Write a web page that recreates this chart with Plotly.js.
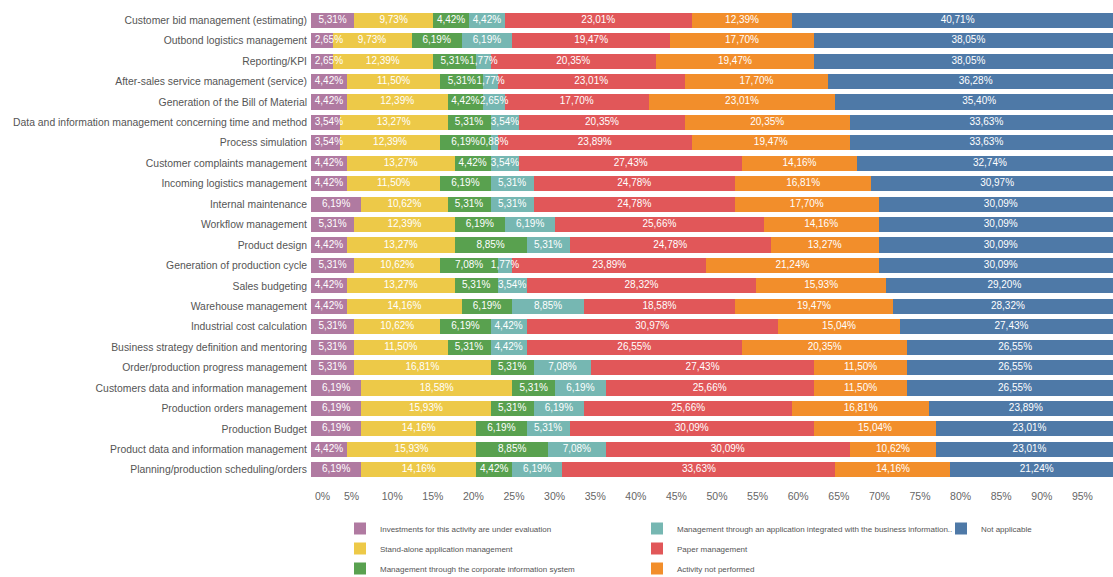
<!DOCTYPE html>
<html>
<head>
<meta charset="utf-8">
<script src="https://cdn.plot.ly/plotly-3.0.1.min.js"></script>
<style>
  html, body { margin: 0; padding: 0; background: #ffffff; }
  #chart { width: 1113px; height: 577px; }
</style>
</head>
<body>
<div id="chart"></div>
<script>
const categories = [
  "Customer bid management (estimating)",
  "Outbond logistics management",
  "Reporting/KPI",
  "After-sales service management (service)",
  "Generation of the Bill of Material",
  "Data and information management concerning time and method",
  "Process simulation",
  "Customer complaints management",
  "Incoming logistics management",
  "Internal maintenance",
  "Workflow management",
  "Product design",
  "Generation of production cycle",
  "Sales budgeting",
  "Warehouse management",
  "Industrial cost calculation",
  "Business strategy definition and mentoring",
  "Order/production progress management",
  "Customers data and information management",
  "Production orders management",
  "Production Budget",
  "Product data and information management",
  "Planning/production scheduling/orders"
];

const investmentsUnderEvaluation = [5.31, 2.65, 2.65, 4.42, 4.42, 3.54, 3.54, 4.42, 4.42, 6.19, 5.31, 4.42, 5.31, 4.42, 4.42, 5.31, 5.31, 5.31, 6.19, 6.19, 6.19, 4.42, 6.19];
const standAloneApplication      = [9.73, 9.73, 12.39, 11.50, 12.39, 13.27, 12.39, 13.27, 11.50, 10.62, 12.39, 13.27, 10.62, 13.27, 14.16, 10.62, 11.50, 16.81, 18.58, 15.93, 14.16, 15.93, 14.16];
const corporateInfoSystem        = [4.42, 6.19, 5.31, 5.31, 4.42, 5.31, 6.19, 4.42, 6.19, 5.31, 6.19, 8.85, 7.08, 5.31, 6.19, 6.19, 5.31, 5.31, 5.31, 5.31, 6.19, 8.85, 4.42];
const integratedApplication      = [4.42, 6.19, 1.77, 1.77, 2.65, 3.54, 0.88, 3.54, 5.31, 5.31, 6.19, 5.31, 1.77, 3.54, 8.85, 4.42, 4.42, 7.08, 6.19, 6.19, 5.31, 7.08, 6.19];
const paperManagement            = [23.01, 19.47, 20.35, 23.01, 17.70, 20.35, 23.89, 27.43, 24.78, 24.78, 25.66, 24.78, 23.89, 28.32, 18.58, 30.97, 26.55, 27.43, 25.66, 25.66, 30.09, 30.09, 33.63];
const activityNotPerformed       = [12.39, 17.70, 19.47, 17.70, 23.01, 20.35, 19.47, 14.16, 16.81, 17.70, 14.16, 13.27, 21.24, 15.93, 19.47, 15.04, 20.35, 11.50, 11.50, 16.81, 15.04, 10.62, 14.16];
const notApplicable              = [40.71, 38.05, 38.05, 36.28, 35.40, 33.63, 33.63, 32.74, 30.97, 30.09, 30.09, 30.09, 30.09, 29.20, 28.32, 27.43, 26.55, 26.55, 26.55, 23.89, 23.01, 23.01, 21.24];

const seriesNames = [
  "Investments for this activity are under evaluation",
  "Stand-alone application management",
  "Management through the corporate information system",
  "Management through an application integrated with the business information..",
  "Paper management",
  "Activity not performed",
  "Not applicable"
];
const seriesValues = [investmentsUnderEvaluation, standAloneApplication, corporateInfoSystem, integratedApplication, paperManagement, activityNotPerformed, notApplicable];
const seriesColors = ["#b07aa1", "#edc948", "#59a14f", "#76b7b2", "#e15759", "#f28e2b", "#4e79a7"];
const seriesLegend = ["legend", "legend", "legend", "legend2", "legend2", "legend2", "legend3"];

const xTickVals = [1.42, 5, 10, 15, 20, 25, 30, 35, 40, 45, 50, 55, 60, 65, 70, 75, 80, 85, 90, 95];
const xTickText = ["0%", "5%", "10%", "15%", "20%", "25%", "30%", "35%", "40%", "45%", "50%", "55%", "60%", "65%", "70%", "75%", "80%", "85%", "90%", "95%"];

const baseFont = "Liberation Sans, Arial, sans-serif";

const barTraces = seriesNames.map((name, i) => ({
  type: "bar",
  orientation: "h",
  name: name,
  y: categories,
  x: seriesValues[i],
  marker: { color: seriesColors[i], line: { width: 0 } },
  legend: seriesLegend[i],
  legendgroup: name,
  hovertemplate: "%{y}<br>" + name + ": %{x:.2f}%<extra></extra>"
}));

// Segment labels: placed at the middle of each stacked segment (drawn on top of all bars,
// like the reference, so labels of thin segments may spill over their neighbours).
const minLabelCenter = 2.2; // keeps the first label inside the pane, as in the reference
const labelX = [], labelY = [], labelValue = [];
const running = categories.map(() => 0);
seriesValues.forEach((vals, s) => {
  vals.forEach((v, i) => {
    let mid = running[i] + v / 2;
    if (s === 0) mid = Math.max(mid, minLabelCenter);
    labelX.push(mid);
    labelY.push(categories[i]);
    labelValue.push(v);
    running[i] += v;
  });
});

const labelTrace = {
  type: "scatter",
  mode: "text",
  x: labelX,
  y: labelY,
  customdata: labelValue,
  texttemplate: "%{customdata:.2f}%",
  textposition: "middle center",
  textfont: { color: "#ffffff", size: 10, family: baseFont },
  cliponaxis: false,
  showlegend: false,
  hoverinfo: "skip"
};

const legendCommon = {
  orientation: "v",
  xref: "container",
  yref: "container",
  xanchor: "left",
  yanchor: "top",
  y: 1 - 514 / 577,
  bgcolor: "rgba(0,0,0,0)",
  borderwidth: 0,
  traceorder: "grouped",
  tracegroupgap: 1,
  font: { family: baseFont, size: 8, color: "#555555" }
};

const layout = {
  width: 1113,
  height: 577,
  margin: { l: 311, r: 0, t: 10, b: 97, pad: 0, autoexpand: false },
  paper_bgcolor: "#ffffff",
  plot_bgcolor: "#ffffff",
  barmode: "stack",
  bargap: 0.26,
  separators: ",.",
  font: { family: baseFont, color: "#555555" },
  xaxis: {
    range: [0, 98.77],
    tickvals: xTickVals,
    ticktext: xTickText,
    showgrid: false,
    zeroline: false,
    showline: false,
    ticks: "",
    ticklabelstandoff: 8,
    automargin: false,
    tickfont: { family: baseFont, size: 10.5, color: "#666666" },
    fixedrange: true
  },
  yaxis: {
    type: "category",
    categoryorder: "array",
    categoryarray: categories,
    range: [22.5, -0.5],
    showgrid: false,
    zeroline: false,
    showline: false,
    ticks: "",
    ticklabelstandoff: 3,
    automargin: false,
    tickfont: { family: baseFont, size: 10.4, color: "#555555" },
    fixedrange: true
  },
  legend: Object.assign({}, legendCommon, { x: 340 / 1113 }),
  legend2: Object.assign({}, legendCommon, { x: 637 / 1113 }),
  legend3: Object.assign({}, legendCommon, { x: 941 / 1113 }),
  showlegend: true
};

Plotly.newPlot("chart", barTraces.concat([labelTrace]), layout, { displayModeBar: false, responsive: false });
</script>
</body>
</html>
